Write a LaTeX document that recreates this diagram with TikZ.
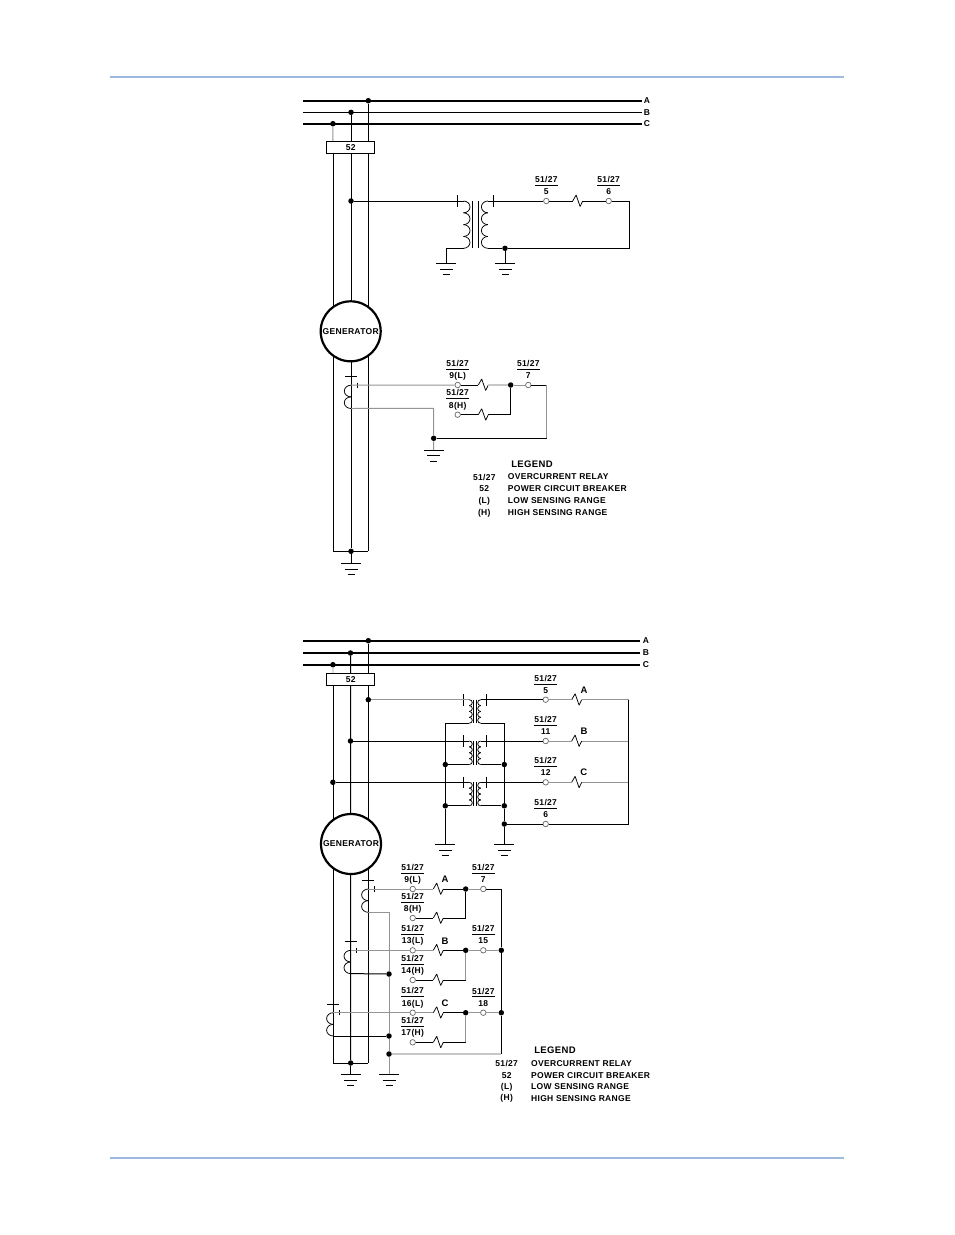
\documentclass[tikz,border=0pt]{standalone}
\usepackage{fontspec}
\setmainfont{Liberation Sans}[LetterSpace=3.6]
\usetikzlibrary{positioning}
\definecolor{pagerule}{HTML}{9DB9E0}
\setlength{\arrayrulewidth}{1pt}
\newcommand{\rtag}[2]{\begin{tabular}{@{}c@{}}51/27\\\hline\noalign{\vskip 2.6pt}#2\end{tabular}}

\tikzset{
    wire/.style={line width=1pt},
    coil/.style={line width=0.75pt},
    grey wire/.style={line width=1pt, draw=black!42},
    pale wire/.style={line width=1.3pt, draw=black!22},
    busbar/.style={line width=2pt},
    dot/.style={circle, fill=black, inner sep=0pt, minimum size=5.5pt},
    term/.style={circle, draw=black!60, fill=white, line width=0.7pt, inner sep=0pt, minimum size=5.5pt},
    small/.style={font=\bfseries\fontsize{8.5}{8}\selectfont, inner sep=0pt},
    rtagbox/.style={small, inner sep=0pt},
    breaker/.style={rectangle, draw, fill=white, line width=1pt, small, minimum width=48pt, minimum height=12pt},
    genset/.style={circle, draw, fill=white, line width=2.2pt, small, minimum size=60pt},
    pics/earth/.style={code={
        \coordinate (-top) at (0,0);
        \draw[wire] (-10,0) -- (10,0);
        \draw[wire] (-6.5,5.7) -- (6.5,5.7);
        \draw[wire] (-3.5,11.4) -- (3.5,11.4);
    }},
    pics/zig/.style={code={
        \coordinate (-in) at (0,0);
        \coordinate (-out) at (10,0);
        \draw[coil, line join=bevel] (-in) -- (3.4,-6) -- (7.4,5.5) -- (-out);
    }},
    pics/xfmr/.style n args={5}{code={
        % #1 height, #2 bump depth, #3 number of bumps, #4 core half gap, #5 cusp offset
        \pgfmathsetmacro{\ry}{#1/(2*#3)}
        \coordinate (-a1) at (-#5,0);
        \coordinate (-a2) at (-#5,#1);
        \coordinate (-b1) at (#5,0);
        \coordinate (-b2) at (#5,#1);
        \draw[wire] (-#4,0) -- (-#4,#1);
        \draw[wire] (#4,0) -- (#4,#1);
        \foreach \k in {1,...,#3} {
            \draw[coil] (-#5,{(\k-1)*2*\ry}) arc[start angle=-90, end angle=90, x radius=#2, y radius=\ry];
            \draw[coil] (#5,{(\k-1)*2*\ry}) arc[start angle=-90, end angle=-270, x radius=#2, y radius=\ry];
        }
    }},
    pics/ct/.style={code={
        \coordinate (-s1) at (0,8.5);
        \coordinate (-s2) at (0,31.8);
        \draw[wire] (-6,0) -- (6,0);
        \draw[wire] (6,5.8) -- (6,11.2);
        \foreach \k in {0,1} {
            \draw[coil] (0,8.5+\k*11.65) arc[start angle=-90, end angle=-270, x radius=6.7, y radius=5.825];
        }
    }},
}

\begin{document}
\begin{tikzpicture}[x=1pt, y=-1pt, small]
    \useasboundingbox (0,0) rectangle (954,1235);

    \coordinate (ruleAl) at (110,77);
    \coordinate (ruleAr) at (844,77);
    \coordinate (ruleBl) at (110,1158);
    \coordinate (ruleBr) at (844,1158);
    \draw[pagerule, line width=1.6pt] (ruleAl) -- (ruleAr);
    \draw[pagerule, line width=1.6pt] (ruleBl) -- (ruleBr);

    %% upper diagram
    \coordinate (Ab) at (303,100.7);
    \coordinate (Bb) at (303,112.3);
    \coordinate (Cb) at (303,123.7);
    \coordinate (Ax) at (641.5,100.7);
    \coordinate (Bx) at (641.5,112.3);
    \coordinate (Cx) at (641.5,123.7);
    \node (Ae) at (647,100.7) {A};
    \node (Be) at (647,112.3) {B};
    \node (Ce) at (647,123.7) {C};
    \draw[busbar] (Ab) -- (Ax);
    \draw[wire] (Bb) -- (Bx);
    \draw[busbar] (Cb) -- (Cx);

    \node[dot] (Ad) at (368.3,100.7) {};
    \node[dot] (Bd) at (351,112.3) {};
    \node[dot] (Cd) at (332.9,123.7) {};

    \coordinate (Af) at (368.3,551.3);
    \coordinate (Cf) at (333.3,551.3);
    \node[dot] (Bf) at (351,551.3) {};
    \pic (gBf) at (351,563.3) {earth};

    \draw[wire] (Ad) -- (Af);
    \draw[wire] (Bd) -- (Bf);
    \draw[wire] (Cf) -- (333.3,147);
    \draw[grey wire] (Cd) -- (333,142);
    \draw[wire] (Cf) -- (Af);
    \draw[wire] (Bf) -- (gBf-top);

    \node[breaker] (cb) at (350.7,147.7) {52};
    \node[genset] (gen) at (350.7,331.3) {GENERATOR};

    \node[dot] (vtd) at (351,201) {};
    \pic (vt) at (475.7,201) {xfmr={47.3}{6.5}{4}{3}{12.2}};
    \coordinate (vtpt) at (457,195);
    \coordinate (vtpb) at (457,207);
    \coordinate (vtst) at (493,195);
    \coordinate (vtsb) at (493,207);
    \draw[wire] (vtpt) -- (vtpb);
    \draw[wire] (vtst) -- (vtsb);
    \draw[wire] (vtd) -- (vt-a1);

    \node[term] (t5) at (546.3,201) {};
    \node[term] (t6) at (608.7,201) {};
    \node[rtagbox, above=1pt of t5] {\rtag{}{5}};
    \node[rtagbox, above=1pt of t6] {\rtag{}{6}};
    \pic (r56) at (572.7,201) {zig};
    \coordinate (vtc1) at (629.3,201);
    \coordinate (vtc2) at (629.3,248.3);
    \node[dot] (vtg) at (505,248.3) {};
    \coordinate (vtl) at (446,248.3);
    \pic (gvl) at (446,263.3) {earth};
    \pic (gvr) at (505,263.3) {earth};

    \draw[wire] (vt-b1) -- (t5);
    \draw[wire] (t5) -- (r56-in);
    \draw[wire] (r56-out) -- (t6);
    \draw[wire] (t6) -- (vtc1) -- (vtc2) -- (vtg) -- (vt-b2);
    \draw[wire] (vt-a2) -- (vtl) -- (gvl-top);
    \draw[wire] (vtg) -- (gvr-top);

    \pic (cta) at (351,376.7) {ct};
    \node[term] (t9) at (457.7,385) {};
    \node[term] (t8) at (457.7,414.7) {};
    \node[term] (t7) at (528.3,385) {};
    \node[rtagbox, above=1pt of t9] {\rtag{}{9(L)}};
    \node[rtagbox, above=1pt of t8] {\rtag{}{8(H)}};
    \node[rtagbox, above=1pt of t7] {\rtag{}{7}};
    \pic (r9) at (478.3,385) {zig};
    \pic (r8) at (478.3,414.7) {zig};
    \node[dot] (j7) at (510.7,385) {};
    \coordinate (j8) at (510.7,414.7);
    \coordinate (c7a) at (546.7,385);
    \coordinate (c7b) at (546.7,438.3);
    \node[dot] (gj) at (433.7,438.3) {};
    \coordinate (gc) at (433.7,408.3);
    \pic (gct) at (433.7,450) {earth};

    \draw[grey wire] (cta-s1) -- (t9);
    \draw[wire] (t9) -- (r9-in);
    \draw[pale wire] (r9-out) -- (j7);
    \draw[grey wire] (j7) -- (t7);
    \draw[wire] (t7) -- (c7a);
    \draw[grey wire] (c7a) -- (c7b);
    \draw[wire] (c7b) -- (gj);
    \draw[grey wire] (cta-s2) -- (gc) -- (gj) -- (gct-top);
    \draw[wire] (t8) -- (r8-in);
    \draw[wire] (r8-out) -- (j8) -- (j7);

    \node (lega) at (532,464.7) {\fontsize{9.5}{9}\selectfont LEGEND};
    \node (leg1a) at (484.3,477) {51/27};
    \node (leg2a) at (484.3,489) {52};
    \node (leg3a) at (484.3,501) {(L)};
    \node (leg4a) at (484.3,513) {(H)};
    \node[anchor=west] (txt1a) at (507.7,477) {OVERCURRENT RELAY};
    \node[anchor=west] (txt2a) at (507.7,489) {POWER CIRCUIT BREAKER};
    \node[anchor=west] (txt3a) at (507.7,501) {LOW SENSING RANGE};
    \node[anchor=west] (txt4a) at (507.7,513) {HIGH SENSING RANGE};

    %% lower diagram
    \coordinate (Ab2) at (303,640.7);
    \coordinate (Bb2) at (303,653);
    \coordinate (Cb2) at (303,664.7);
    \coordinate (Ax2) at (640,640.7);
    \coordinate (Bx2) at (640,653);
    \coordinate (Cx2) at (640,664.7);
    \node (Ae2) at (646,640.7) {A};
    \node (Be2) at (646,653) {B};
    \node (Ce2) at (646,664.7) {C};
    \draw[busbar] (Ab2) -- (Ax2);
    \draw[busbar] (Bb2) -- (Bx2);
    \draw[busbar] (Cb2) -- (Cx2);

    \node[dot] (Ad2) at (368.3,640.7) {};
    \node[dot] (Bd2) at (350.5,653) {};
    \node[dot] (Cd2) at (332.9,664.7) {};

    \coordinate (Af2) at (368.3,1063);
    \coordinate (Cf2) at (333.3,1063);
    \node[dot] (Bf2) at (350.7,1063) {};
    \pic (gBf2) at (350.7,1074.3) {earth};

    \draw[wire] (Ad2) -- (Af2);
    \draw[wire] (Bd2) -- (Bf2);
    \draw[wire] (Cf2) -- (333.3,679);
    \draw[pale wire] (Cd2) -- (333,673.5);
    \draw[wire] (Cf2) -- (Af2);
    \draw[wire] (Bf2) -- (gBf2-top);

    \node[breaker] (cb2) at (350.7,679.2) {52};
    \node[genset] (gen2) at (351,844) {GENERATOR};

    \node[dot] (ja) at (368.3,699.7) {};
    \node[dot] (jb) at (350.5,741) {};
    \node[dot] (jc) at (332.9,782.3) {};
    \foreach \nm/\yy in {vta/699.7, vtb/741, vtc/782.3} {
        \pic (\nm) at (475,\yy) {xfmr={23.5}{3}{4}{1.7}{5.7}};
        \coordinate (\nm pt) at (463.5,\yy-5.8);
        \coordinate (\nm pb) at (463.5,\yy+5.8);
        \coordinate (\nm st) at (486.5,\yy-5.8);
        \coordinate (\nm sb) at (486.5,\yy+5.8);
        \draw[wire] (\nm pt) -- (\nm pb);
        \draw[wire] (\nm st) -- (\nm sb);
    }

    \node[term] (t5b) at (545.7,699.7) {};
    \node[term] (t11) at (545.7,741) {};
    \node[term] (t12) at (545.7,782.3) {};
    \node[term] (t6b) at (545.7,824) {};
    \node[rtagbox, above=1pt of t5b] {\rtag{}{5}};
    \node[rtagbox, above=1pt of t11] {\rtag{}{11}};
    \node[rtagbox, above=1pt of t12] {\rtag{}{12}};
    \node[rtagbox, above=1pt of t6b] {\rtag{}{6}};
    \pic (r5b) at (571.7,699.7) {zig};
    \pic (r11) at (571.7,741) {zig};
    \pic (r12) at (571.7,782.3) {zig};
    \node (la) at (584,690.7) {\fontsize{9.5}{9}\selectfont A};
    \node (lb) at (584,731.7) {\fontsize{9.5}{9}\selectfont B};
    \node (lc) at (583.7,772.7) {\fontsize{9.5}{9}\selectfont C};
    \coordinate (ra) at (628.7,699.7);
    \coordinate (rb) at (628.7,741);
    \coordinate (rc) at (628.7,782.3);
    \coordinate (rd) at (628.7,824);

    \draw[grey wire] (ja) -- (vta-a1);
    \draw[wire] (vta-b1) -- (t5b);
    \draw[grey wire] (t5b) -- (r5b-in);
    \draw[grey wire] (r5b-out) -- (ra);
    \draw[wire] (jb) -- (vtb-a1);
    \draw[wire] (vtb-b1) -- (t11);
    \draw[grey wire] (t11) -- (r11-in);
    \draw[grey wire] (r11-out) -- (rb);
    \draw[wire] (jc) -- (vtc-a1);
    \draw[wire] (vtc-b1) -- (t12);
    \draw[grey wire] (t12) -- (r12-in);
    \draw[grey wire] (r12-out) -- (rc);

    \coordinate (pla) at (445.3,723.2);
    \coordinate (sla) at (504.3,723.2);
    \node[dot] (plb) at (445.3,764.5) {};
    \node[dot] (slb) at (504.3,764.5) {};
    \node[dot] (plc) at (445.3,805.8) {};
    \node[dot] (slc) at (504.3,805.8) {};
    \node[dot] (sld) at (504.3,824) {};
    \pic (gpl) at (445.3,844.3) {earth};
    \pic (gsl) at (504.3,844.3) {earth};

    \draw[wire] (vta-a2) -- (pla) -- (plb) -- (plc) -- (gpl-top);
    \draw[wire] (vta-b2) -- (sla) -- (slb) -- (slc) -- (sld) -- (gsl-top);
    \draw[wire] (vtb-a2) -- (plb);
    \draw[wire] (vtb-b2) -- (slb);
    \draw[wire] (vtc-a2) -- (plc);
    \draw[wire] (vtc-b2) -- (slc);
    \draw[wire] (sld) -- (t6b) -- (rd) -- (ra);

    \pic (ctA) at (368.3,880.5) {ct};
    \pic (ctB) at (350.7,941.8) {ct};
    \pic (ctC) at (333.3,1004.2) {ct};

    \coordinate (gtop) at (389,912.3);
    \node[dot] (gb) at (389,974) {};
    \node[dot] (gc2) at (389,1036) {};
    \node[dot] (gd) at (389,1054) {};
    \pic (gct2) at (389,1074.3) {earth};
    \coordinate (rt) at (501.3,889);
    \node[dot] (rj15) at (501.3,950.3) {};
    \node[dot] (rj18) at (501.3,1012.7) {};
    \coordinate (rb2) at (501.3,1054);

    \draw[grey wire] (ctA-s2) -- (gtop) -- (gb) -- (gc2) -- (gd) -- (gct2-top);
    \draw[wire] (ctB-s2) -- (gb);
    \draw[wire] (ctC-s2) -- (gc2);
    \draw[pale wire] (gd) -- (rb2);
    \draw[wire] (rt) -- (rj15) -- (rj18) -- (rb2);

    \foreach \nm/\hi/\lo/\out/\tl/\tm/\tr/\xct in {
        A/889/918/t7x/9(L)/8(H)/7/ctA,
        B/950.3/980/t15/13(L)/14(H)/15/ctB,
        C/1012.7/1042.3/t18/16(L)/17(H)/18/ctC} {
        \node[term] (tl\nm) at (412.7,\hi) {};
        \node[term] (tm\nm) at (412.7,\lo) {};
        \node[term] (\out) at (483.3,\hi) {};
        \node[rtagbox, above=1pt of tl\nm] {\rtag{}{\tl}};
        \node[rtagbox, above=1pt of tm\nm] {\rtag{}{\tm}};
        \node[rtagbox, above=1pt of \out] {\rtag{}{\tr}};
        \pic (rl\nm) at (433.3,\hi) {zig};
        \pic (rm\nm) at (433.3,\lo) {zig};
        \node[dot] (jl\nm) at (465.7,\hi) {};
        \coordinate (jm\nm) at (465.7,\lo);
        \draw[grey wire] (\xct-s1) -- (tl\nm);
        \draw[grey wire] (tl\nm) -- (rl\nm-in);
        \draw[wire] (rl\nm-out) -- (jl\nm);
        \draw[grey wire] (jl\nm) -- (\out);
        \draw[wire] (tm\nm) -- (rm\nm-in);
        \draw[wire] (rm\nm-out) -- (jm\nm);
    }
    \draw[wire] (jmA) -- (jlA);
    \draw[grey wire] (jmB) -- (jlB);
    \draw[grey wire] (jmC) -- (jlC);
    \draw[wire] (t7x) -- (rt);
    \draw[grey wire] (t15) -- (rj15);
    \draw[grey wire] (t18) -- (rj18);

    \node (ltA) at (445,879.3) {\fontsize{9.5}{9}\selectfont A};
    \node (ltB) at (445,941) {\fontsize{9.5}{9}\selectfont B};
    \node (ltC) at (445,1003) {\fontsize{9.5}{9}\selectfont C};

    \node (legb) at (555,1050.7) {\fontsize{9.5}{9}\selectfont LEGEND};
    \node (leg1b) at (506.7,1063.3) {51/27};
    \node (leg2b) at (506.7,1075.3) {52};
    \node (leg3b) at (506.7,1087) {(L)};
    \node (leg4b) at (506.7,1098.7) {(H)};
    \node[anchor=west] (txt1b) at (531,1063.3) {OVERCURRENT RELAY};
    \node[anchor=west] (txt2b) at (531,1075.3) {POWER CIRCUIT BREAKER};
    \node[anchor=west] (txt3b) at (531,1087) {LOW SENSING RANGE};
    \node[anchor=west] (txt4b) at (531,1098.7) {HIGH SENSING RANGE};
\end{tikzpicture}
\end{document}
